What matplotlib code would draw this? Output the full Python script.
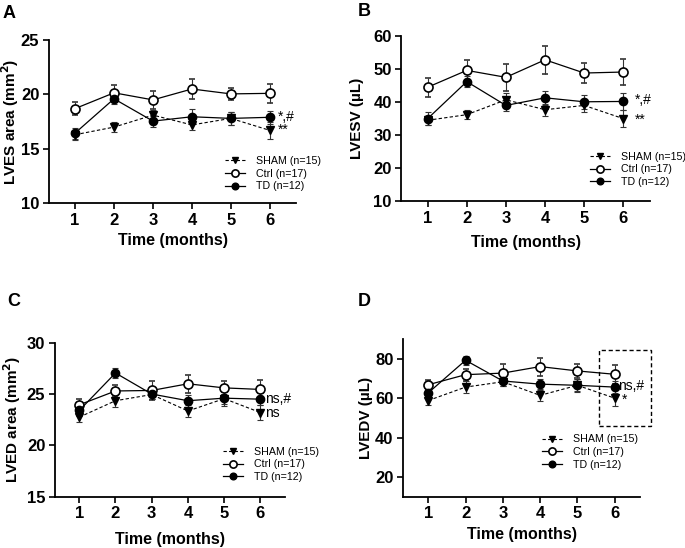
import matplotlib
matplotlib.use("Agg")
import matplotlib.pyplot as plt
from matplotlib.patches import Rectangle

plt.rcParams['font.family'] = ['Liberation Sans', 'DejaVu Sans']

months = [1, 2, 3, 4, 5, 6]
groups = ['SHAM (n=15)', 'Ctrl (n=17)', 'TD (n=12)']

# A: LVES area
a_sham = [16.3, 17.0, 18.1, 17.2, 17.8, 16.7]
a_sham_err = [0.45, 0.45, 0.5, 0.5, 0.6, 0.8]
a_ctrl = [18.7, 20.15, 19.5, 20.5, 20.05, 20.1]
a_ctrl_err = [0.6, 0.7, 0.85, 0.95, 0.55, 0.9]
a_td = [16.45, 19.6, 17.55, 17.95, 17.8, 17.9]
a_td_err = [0.5, 0.5, 0.5, 0.7, 0.6, 0.6]

# B: LVESV
b_sham = [34.5, 36.2, 40.7, 37.7, 39.0, 35.0]
b_sham_err = [1.3, 1.4, 2.0, 1.8, 2.0, 2.5]
b_ctrl = [44.5, 49.6, 47.5, 52.8, 48.8, 49.1]
b_ctrl_err = [2.9, 3.0, 4.0, 4.3, 3.0, 3.9]
b_td = [35.0, 46.2, 39.0, 41.3, 40.1, 40.2]
b_td_err = [2.0, 1.7, 1.6, 2.2, 2.2, 2.5]

# C: LVED area
c_sham = [22.75, 24.35, 24.95, 23.35, 24.55, 23.2]
c_sham_err = [0.45, 0.6, 0.45, 0.6, 0.75, 0.75]
c_ctrl = [23.95, 25.3, 25.35, 26.0, 25.6, 25.45]
c_ctrl_err = [0.6, 0.6, 0.9, 0.9, 0.7, 0.95]
c_td = [23.4, 27.05, 25.0, 24.35, 24.6, 24.5]
c_td_err = [0.5, 0.45, 0.5, 0.6, 0.6, 0.6]

# D: LVEDV
d_sham = [58.8, 65.6, 68.3, 61.4, 66.5, 60.0]
d_sham_err = [2.2, 2.9, 1.9, 2.8, 3.4, 4.1]
d_ctrl = [66.8, 71.9, 72.7, 76.0, 73.8, 72.1]
d_ctrl_err = [2.5, 3.0, 4.5, 4.6, 3.4, 4.9]
d_td = [62.7, 79.2, 68.7, 67.1, 66.5, 65.6]
d_td_err = [3.0, 2.2, 2.6, 2.6, 3.0, 3.0]

fig = plt.figure(figsize=(6.85, 5.48), dpi=100)

panels = [
    # letter, rect, data, ylabel, ylim, yticks, notes, legend anchor, label coords, letter pos
    ('A', [0.0715, 0.629, 0.361, 0.298], (a_sham, a_sham_err, a_ctrl, a_ctrl_err, a_td, a_td_err),
     'LVES area (mm$^\\mathbf{2}$)', (10, 25), [10, 15, 20, 25],
     [('*,#', 6.2, 17.9), ('**', 6.2, 16.75)], (0.712, 0.29), (-0.112, -0.18), (3, 13)),
    ('B', [0.586, 0.6327, 0.3628, 0.3016], (b_sham, b_sham_err, b_ctrl, b_ctrl_err, b_td, b_td_err),
     'LVESV (µL)', (10, 60), [10, 20, 30, 40, 50, 60],
     [('*,#', 6.3, 40.5), ('**', 6.3, 34.7)], (0.759, 0.30), (-0.15, -0.204), (358, 11)),
    ('C', [0.0803, 0.0936, 0.3358, 0.281], (c_sham, c_sham_err, c_ctrl, c_ctrl_err, c_td, c_td_err),
     'LVED area (mm$^\\mathbf{2}$)', (15, 30), [15, 20, 25, 30],
     [('ns,#', 6.14, 24.55), ('ns', 6.14, 23.2)], (0.73, 0.325), (-0.14, -0.227), (7, 301)),
    ('D', [0.5888, 0.0936, 0.3455, 0.2878], (d_sham, d_sham_err, d_ctrl, d_ctrl_err, d_td, d_td_err),
     'LVEDV (µL)', (10, 90), [20, 40, 60, 80],
     [('ns,#', 6.08, 66.0), ('*', 6.2, 59.3)], (0.585, 0.395), (-0.128, -0.192), (358, 301)),
]

for letter, rect, vals, ylabel, ylim, yticks, notes, leg, lab, lpos in panels:
    ax = fig.add_axes(rect)
    sham, sham_e, ctrl, ctrl_e, td, td_e = vals
    e1 = ax.errorbar(months, sham, yerr=sham_e, color='black', ecolor='#333333', linestyle=(0, (3, 2)),
                     linewidth=0.8, elinewidth=0.8, capsize=2.5, capthick=0.8,
                     marker='v', markersize=5.5)
    e2 = ax.errorbar(months, ctrl, yerr=ctrl_e, color='black', ecolor='#333333', linestyle='-',
                     linewidth=0.9, elinewidth=0.8, capsize=2.5, capthick=0.8,
                     marker='o', markersize=6.5, markerfacecolor='white', markeredgewidth=1.2)
    e3 = ax.errorbar(months, td, yerr=td_e, color='black', ecolor='#333333', linestyle='-',
                     linewidth=0.9, elinewidth=0.8, capsize=2.5, capthick=0.8,
                     marker='o', markersize=6)
    ax.set_xlim(0.33, 6.68)
    ax.set_ylim(*ylim)
    ax.set_xticks(months)
    ax.set_yticks(yticks)
    for s in ['top', 'right']:
        ax.spines[s].set_visible(False)
    for s in ['left', 'bottom']:
        ax.spines[s].set_linewidth(1.3)
    ax.tick_params(width=1.2, length=4, labelsize=12, pad=3)
    for t in ax.get_xticklabels() + ax.get_yticklabels():
        t.set_fontweight('bold')
    ax.set_xlabel('Time (months)', fontsize=11.5, fontweight='bold')
    ax.set_ylabel(ylabel, fontsize=11, fontweight='bold')
    ax.yaxis.set_label_coords(lab[0], 0.5)
    ax.xaxis.set_label_coords(0.5, lab[1])
    for txt, nx, ny in notes:
        ax.text(nx, ny, txt, fontsize=10, va='center', ha='left')
    if letter == 'D':
        ax.add_patch(Rectangle((5.59, 46.1), 1.38, 38.4, fill=False, edgecolor='black',
                               linestyle=(0, (3, 2)), linewidth=1.0, clip_on=False))
    ax.legend([e1[0], e2[0], e3[0]], groups, loc='upper left', bbox_to_anchor=leg,
              frameon=False, fontsize=7.7, handlelength=1.9, handletextpad=1.0,
              labelspacing=0.25, borderpad=0, borderaxespad=0, markerscale=0.8)
    fig.text(lpos[0] / 685, 1 - lpos[1] / 548, letter, fontsize=13, fontweight='bold',
             ha='left', va='center')

plt.savefig('out.png', dpi=100)
